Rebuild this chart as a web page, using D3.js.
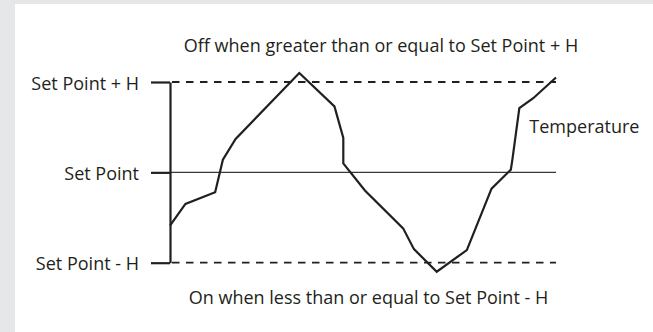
<!DOCTYPE html>
<html>
<head>
<meta charset="utf-8">
<script src="https://cdn.jsdelivr.net/npm/d3@7"></script>
<style>
  body { margin: 0; background: #e6e7e8; }
  svg { display: block; }
</style>
</head>
<body>
<div id="chart"></div>
<script>
// time axis (arbitrary units) and temperature relative to set point (H = 1)
const times = [0, 4.0, 11.7, 13.7, 17.0, 33.5, 42.6, 44.9, 44.9, 50.5, 60.4, 63.2, 69.1, 76.9, 83.3, 88.3, 88.7, 90.5, 94.1, 100];
const temps = [-0.59, -0.35, -0.22, 0.14, 0.37, 1.10, 0.73, 0.38, 0.10, -0.20, -0.62, -0.85, -1.10, -0.86, -0.18, 0.03, 0.14, 0.71, 0.82, 1.05];
const levels = [1, 0, -1];
const levelLabels = ["Set Point + H", "Set Point", "Set Point - H"];
const topNote = "Off when greater than or equal to Set Point + H";
const bottomNote = "On when less than or equal to Set Point - H";
const seriesLabel = "Temperature";

const width = 653, height = 332;
const ink = "#231f20";
const font = "'Open Sans', sans-serif";
const fontSize = "18px";

const svg = d3.select("#chart")
    .append("svg")
    .attr("width", width)
    .attr("height", height);

// white panel on grey page
svg.append("rect")
    .attr("x", 0).attr("y", 0)
    .attr("width", width).attr("height", height)
    .style("fill", "#e6e7e8");
svg.append("rect")
    .attr("x", 15).attr("y", 4)
    .attr("width", width - 15).attr("height", height - 4)
    .style("fill", "#ffffff");

var x = d3.scaleLinear()
    .domain([0, 100])
    .range([170, 556]);

var y = d3.scaleLinear()
    .domain([-1, 1])
    .range([262.7, 82]);

// Set point line (solid, thin)
svg.append("line")
    .attr("x1", x(0))
    .attr("x2", x(100))
    .attr("y1", y(0))
    .attr("y2", y(0))
    .style("stroke", "#3a3738")
    .style("stroke-width", 1.4);

// hysteresis limits (dashed)
svg.selectAll(".limit")
    .data([1, -1])
    .enter()
    .append("line")
    .attr("class", "limit")
    .attr("x1", x(0) + 2)
    .attr("x2", x(100))
    .attr("y1", d => y(d))
    .attr("y2", d => y(d))
    .style("stroke", ink)
    .style("stroke-width", 1.8)
    .style("stroke-dasharray", "7.5, 6.5");

// left axis with the three levels
var axis = svg.append("g")
    .attr("transform", "translate(" + x(0) + ",0)")
    .call(d3.axisLeft(y)
        .tickValues(levels)
        .tickSize(19)
        .tickSizeOuter(0)
        .tickPadding(12)
        .tickFormat((d, i) => levelLabels[i]));

axis.select(".domain")
    .style("stroke", ink)
    .style("stroke-width", 2.2);
axis.selectAll(".tick line")
    .style("stroke", ink)
    .style("stroke-width", 2.2);
axis.selectAll(".tick text")
    .attr("dy", "0.4em")
    .style("font-family", font)
    .style("font-size", fontSize)
    .style("fill", ink);

// temperature trace
var line = d3.line()
    .x((d, i) => x(times[i]))
    .y(d => y(d));

svg.append("path")
    .datum(temps)
    .attr("d", line)
    .style("fill", "none")
    .style("stroke", ink)
    .style("stroke-width", 2.2)
    .style("stroke-linejoin", "miter");

// annotations
svg.append("text")
    .attr("x", 381)
    .attr("y", y(1) - 30)
    .attr("text-anchor", "middle")
    .style("font-family", font)
    .style("font-size", fontSize)
    .style("fill", ink)
    .text(topNote);

svg.append("text")
    .attr("x", 368.5)
    .attr("y", y(-1) + 41)
    .attr("text-anchor", "middle")
    .style("font-family", font)
    .style("font-size", fontSize)
    .style("fill", ink)
    .text(bottomNote);

svg.append("text")
    .attr("x", x(times[17]) + 10)
    .attr("y", y(0.44))
    .style("font-family", font)
    .style("font-size", fontSize)
    .style("fill", ink)
    .text(seriesLabel);
</script>
</body>
</html>
